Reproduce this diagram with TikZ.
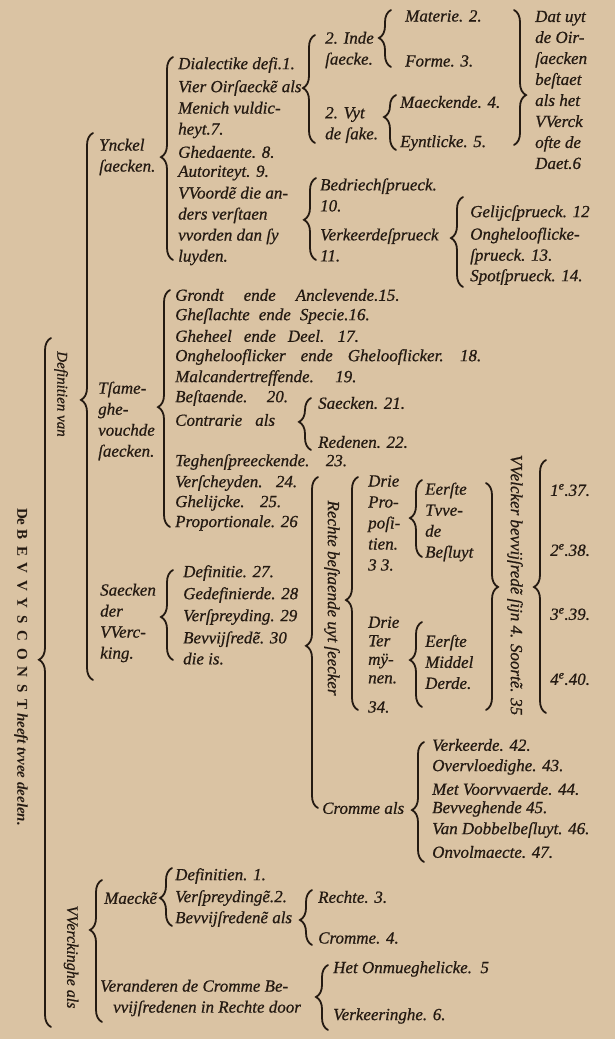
\documentclass[tikz,border=0pt]{standalone}
\usepackage{fontspec}
\setmainfont{Liberation Serif}[ItalicFeatures={FakeBold=0.7}]
\usepackage{tikz}
\usetikzlibrary{decorations.pathreplacing}
\definecolor{parch}{RGB}{218,195,163}
\definecolor{ink}{RGB}{36,26,18}
\newcommand{\itmfont}{\fontsize{17}{21}\selectfont\itshape}
\newcommand{\wijdsp}[1]{\spaceskip #1\relax}
\tikzset{
    % 花括号样式, 参数为尖角位置 (aspect)
    lbrace/.style={
        decorate,
        decoration={brace, amplitude=12pt, aspect=#1},
        line width=1.8pt,
        line cap=round,
        ink
    },
    lbrace/.default=0.5,
    % 文字样式
    itm/.style={font=\itmfont, text=ink, anchor=west, inner sep=0pt, align=left},
    wijd/.style={font={\itmfont\wijdsp{#1}}},
    vtxt/.style={font=\itmfont, text=ink, rotate=-90, inner sep=0pt}
}

\begin{document}
\begin{tikzpicture}[x=1pt,y=-1pt]
    \useasboundingbox (0,0) rectangle (615,1039);
    \fill[parch] (0,0) rectangle (615,1039);

    % ===================== 花括号端点 =====================
    \path
    (51,1027) coordinate (big_b)   (51,338) coordinate (big_t)
    (93,680) coordinate (up_b)     (93,133) coordinate (up_t)
    (102,1022) coordinate (low_b)  (102,880) coordinate (low_t)

    (173,260) coordinate (yn_b)    (173,57) coordinate (yn_t)
    (315,143) coordinate (oir_b)   (315,35) coordinate (oir_t)
    (391,67) coordinate (inde_b)   (391,10) coordinate (inde_t)
    (396,150) coordinate (uyt_b)   (396,95) coordinate (uyt_t)
    (514,10) coordinate (dat_t)    (514,145) coordinate (dat_b)
    (316,260) coordinate (vv_b)    (316,178) coordinate (vv_t)
    (463,287) coordinate (verk_b)  (463,197) coordinate (verk_t)

    (170,527) coordinate (ts_b)    (170,290) coordinate (ts_t)
    (311,450) coordinate (con_b)   (311,398) coordinate (con_t)

    (173,660) coordinate (sdv_b)   (173,570) coordinate (sdv_t)
    (318,808) coordinate (bev_b)   (318,477) coordinate (bev_t)
    (358,710) coordinate (re_b)    (358,477) coordinate (re_t)
    (422,557) coordinate (d1_b)    (422,480) coordinate (d1_t)
    (422,707) coordinate (d2_b)    (422,622) coordinate (d2_t)
    (486,483) coordinate (so_t)    (486,710) coordinate (so_b)
    (546,713) coordinate (sr_b)    (546,460) coordinate (sr_t)
    (424,862) coordinate (cr_b)    (424,742) coordinate (cr_t)

    (172,926) coordinate (mk_b)    (172,868) coordinate (mk_t)
    (312,945) coordinate (bv_b)    (312,890) coordinate (bv_t)
    (328,1030) coordinate (va_b)   (328,965) coordinate (va_t);

    % 左括号 (从下往上画), 右括号 (从上往下画)
    \draw[lbrace=0.533] (big_b) -- (big_t);
    \draw[lbrace=0.512] (up_b) -- (up_t);
    \draw[lbrace=0.648] (low_b) -- (low_t);
    \draw[lbrace=0.507] (yn_b) -- (yn_t);
    \draw[lbrace=0.509] (oir_b) -- (oir_t);
    \draw[lbrace=0.509] (inde_b) -- (inde_t);
    \draw[lbrace=0.6] (uyt_b) -- (uyt_t);
    \draw[lbrace=0.63] (dat_t) -- (dat_b);
    \draw[lbrace=0.49] (vv_b) -- (vv_t);
    \draw[lbrace=0.544] (verk_b) -- (verk_t);
    \draw[lbrace=0.506] (ts_b) -- (ts_t);
    \draw[lbrace=0.54] (con_b) -- (con_t);
    \draw[lbrace=0.478] (sdv_b) -- (sdv_t);
    \draw[lbrace=0.49] (bev_b) -- (bev_t);
    \draw[lbrace=0.472] (re_b) -- (re_t);
    \draw[lbrace=0.506] (d1_b) -- (d1_t);
    \draw[lbrace=0.553] (d2_b) -- (d2_t);
    \draw[lbrace=0.458] (so_t) -- (so_b);
    \draw[lbrace=0.498] (sr_b) -- (sr_t);
    \draw[lbrace=0.433] (cr_b) -- (cr_t);
    \draw[lbrace=0.483] (mk_b) -- (mk_t);
    \draw[lbrace=0.455] (bv_b) -- (bv_t);
    \draw[lbrace=0.508] (va_b) -- (va_t);

    % ===================== 左边竖排文字 =====================
    \node[vtxt, font=\fontsize{15}{18}\selectfont\bfseries\itshape] (titel) at (21,667)
        {{\upshape De} {\upshape\addfontfeature{LetterSpace=45}BEVVYSCONST} heeft tvvee deelen.};
    \node[vtxt, font=\fontsize{15}{18}\selectfont\itshape] (defvan) at (61,394) {Definitien van};
    \node[vtxt, font=\fontsize{16}{18}\selectfont\itshape] (vverck) at (71,957) {VVerckinghe als};

    % ===================== Ynckel saecken =====================
    \node[itm] (ynckel) at (99,157) {Ynckel\\ſaecken.};
    \node[itm] (dial) at (178,65) {Dialectike defi.1.};
    \node[itm] (oir) at (178,88) {Vier Oirſaeckẽ als};
    \node[itm] (menich) at (178,120) {Menich vuldic-\\heyt.7.};
    \node[itm] (ghed) at (178,152) {Ghedaente. 8.};
    \node[itm] (autor) at (178,173) {Autoriteyt. 9.};
    \node[itm] (vvoord) at (178,226) {VVoordẽ die an-\\ders verſtaen\\vvorden dan ſy\\luyden.};

    \node[itm] (inde) at (325,50) {2. Inde\\ſaecke.};
    \node[itm] (materie) at (405,16) {Materie. 2.};
    \node[itm] (forme) at (405,61) {Forme. 3.};
    \node[itm] (uyt) at (325,125) {2. Vyt\\de ſake.};
    \node[itm] (maeckende) at (400,102) {Maeckende. 4.};
    \node[itm] (eynt) at (400,143) {Eyntlicke. 5.};
    \node[itm] (dat) at (535,90) {Dat uyt\\de Oir-\\ſaecken\\beſtaet\\als het\\VVerck\\ofte de\\Daet.6};

    \node[itm] (bedr) at (320,195) {Bedriechſprueck.\\10.};
    \node[itm] (verkeerd) at (320,245) {Verkeerdeſprueck\\11.};
    \node[itm] (gelijc) at (470,213) {Gelijcſprueck. 12};
    \node[itm] (onghl) at (470,246) {Onghelooflicke-\\ſprueck. 13.};
    \node[itm] (spot) at (470,277) {Spotſprueck. 14.};

    % ===================== Tsame ghevouchde saecken =====================
    \node[itm] (tsame) at (98,421) {Tſame-\\ghe-\\vouchde\\ſaecken.};
    \node[itm, wijd=20pt] (grondt) at (175,295) {Grondt ende Anclevende.15.};
    \node[itm, wijd=9pt] (gesl) at (175,316) {Gheſlachte ende Specie.16.};
    \node[itm, wijd=12pt] (gheheel) at (175,336) {Gheheel ende Deel. 17.};
    \node[itm, wijd=15pt] (onghel) at (175,357) {Onghelooflicker ende Ghelooflicker. 18.};
    \node[itm, wijd=20pt] (malc) at (175,378) {Malcandertreffende. 19.};
    \node[itm, wijd=18pt] (best) at (175,398) {Beſtaende. 20.};
    \node[itm, wijd=13pt] (contr) at (175,420) {Contrarie als};
    \node[itm] (saeck21) at (318,403) {Saecken. 21.};
    \node[itm] (reden) at (318,442) {Redenen. 22.};
    \node[itm, wijd=15pt] (tegh) at (175,462) {Teghenſpreeckende. 23.};
    \node[itm, wijd=12pt] (versch) at (175,483) {Verſcheyden. 24.};
    \node[itm, wijd=14pt] (ghelijck) at (175,503) {Ghelijcke. 25.};
    \node[itm] (prop) at (175,523) {Proportionale. 26};

    % ===================== Saecken der VVercking =====================
    \node[itm] (sdv) at (100,623) {Saecken\\der\\VVerc-\\king.};
    \node[itm] (defi) at (183,573) {Definitie. 27.};
    \node[itm] (gedef) at (183,595) {Gedefinierde. 28};
    \node[itm] (versp) at (183,617) {Verſpreyding. 29};
    \node[itm] (bevv) at (183,648) {Bevvijſredẽ. 30\\die is.};

    \node[vtxt] (rechte) at (332,598) {Rechte beſtaende uyt ſeecker};
    \node[itm] (drie1) at (368,523) {Drie\\Pro-\\poſi-\\tien.\\3 3.};
    \node[itm] (eerste1) at (425,522) {Eerſte\\Tvve-\\de\\Beſluyt};
    \node[itm, font=\fontsize{17}{18.5}\selectfont\itshape] (drie2) at (368,650) {Drie\\Ter\\mÿ-\\nen.};
    \node[itm] (drie2n) at (368,707) {34.};
    \node[itm] (eerste2) at (425,662) {Eerſte\\Middel\\Derde.};
    \node[vtxt] (velck) at (515,585) {VVelcker bevvijſredẽ ſijn 4. Soortẽ. 35};
    \node[itm] (n37) at (550,490) {1\textsuperscript{e}.37.};
    \node[itm] (n38) at (550,550) {2\textsuperscript{e}.38.};
    \node[itm] (n39) at (550,614) {3\textsuperscript{e}.39.};
    \node[itm] (n40) at (550,679) {4\textsuperscript{e}.40.};

    \node[itm] (cromme) at (322,808) {Cromme als};
    \node[itm] (vk42) at (432,745) {Verkeerde. 42.};
    \node[itm] (ov43) at (432,767) {Overvloedighe. 43.};
    \node[itm] (mv44) at (432,789) {Met Voorvvaerde. 44.};
    \node[itm] (bv45) at (432,809) {Bevveghende 45.};
    \node[itm] (vd46) at (432,830) {Van Dobbelbeſluyt. 46.};
    \node[itm] (on47) at (432,852) {Onvolmaecte. 47.};

    % ===================== VVerckinghe als =====================
    \node[itm] (maeckn) at (104,898) {Maeckẽ};
    \node[itm] (defn) at (175,876) {Definitien. 1.};
    \node[itm] (vspr) at (175,898) {Verſpreydingẽ.2.};
    \node[itm] (bvr) at (175,919) {Bevvijſredenẽ als};
    \node[itm] (rech3) at (318,897) {Rechte. 3.};
    \node[itm] (crom4) at (318,938) {Cromme. 4.};
    \node[itm] (veran) at (100,998) {Veranderen de Cromme Be-\\\hspace*{13pt}vvijſredenen in Rechte door};
    \node[itm] (onm) at (333,969) {Het Onmueghelicke.\enspace 5};
    \node[itm] (verk6) at (333,1016) {Verkeeringhe. 6.};
\end{tikzpicture}
\end{document}
